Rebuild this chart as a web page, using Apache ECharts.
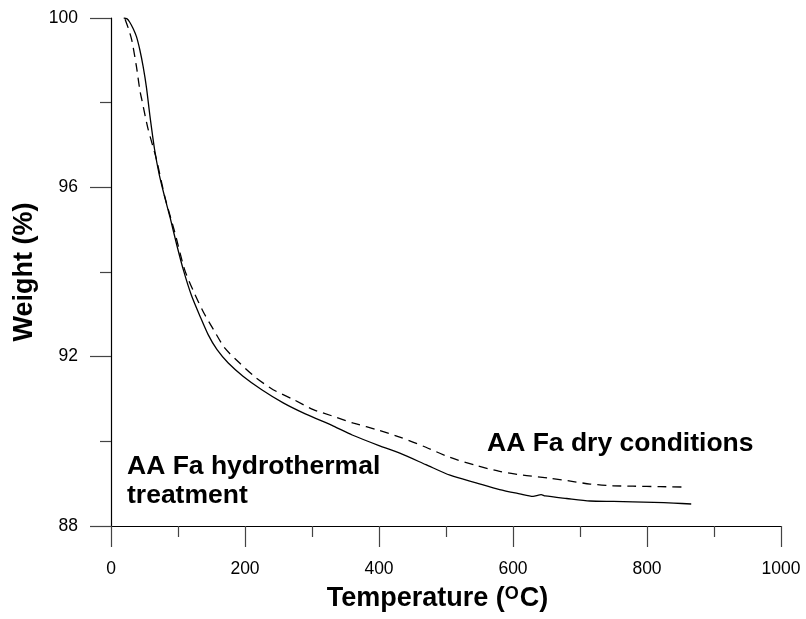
<!DOCTYPE html>
<html><head><meta charset="utf-8">
<script src="https://cdn.jsdelivr.net/npm/echarts@6/dist/echarts.min.js"></script>
<style>html,body{margin:0;padding:0;background:#fff}#c{width:806px;height:619px}</style>
</head><body><div id="c"></div>
<script>
var hydroT = [19,24,28,33,38,43,48,53,58,65,72,80,88,98,108,120,133,145,158,175,197,225,257,290,332,360,400,431,470,506,545,580,610,630,638,642,648,680,715,750,779,810,840,866];
var hydroW = [100,99.98,99.9,99.75,99.56,99.25,98.85,98.35,97.7,96.9,96.3,95.78,95.3,94.65,94.05,93.45,92.95,92.52,92.17,91.85,91.54,91.22,90.91,90.65,90.36,90.15,89.9,89.72,89.45,89.2,89.02,88.86,88.76,88.7,88.73,88.74,88.71,88.65,88.59,88.58,88.57,88.56,88.54,88.52];
var dryT = [21,26,31,38,43,46,55,68,80,95,110,123,138,153,170,192,215,242,272,302,330,362,400,431,470,506,545,580,615,655,690,715,750,779,820,854];
var dryW = [99.97,99.75,99.48,98.85,98.3,98.07,97.4,96.65,95.8,94.95,94.05,93.55,93.05,92.64,92.2,91.85,91.52,91.22,90.99,90.75,90.6,90.43,90.26,90.1,89.86,89.62,89.43,89.29,89.2,89.13,89.05,88.99,88.95,88.94,88.93,88.92];
var xTicks = {min:0, max:1000, interval:200};
var yTicks = {min:88, max:100, interval:4};
var labelHydro = 'AA Fa hydrothermal\ntreatment';
var labelDry = 'AA Fa dry conditions';

function pairs(xs, ys){ return xs.map(function(x,i){return [x, ys[i]];}); }
var FF = 'Liberation Sans, Arial, sans-serif';
var chart = echarts.init(document.getElementById('c'));
chart.setOption({
  animation:false,
  backgroundColor:'#fff',
  grid:{left:111, right:25, top:18, bottom:93},
  xAxis:{type:'value', min:xTicks.min, max:xTicks.max, interval:xTicks.interval,
    name:'Temperature ({sup|O}C)', nameLocation:'middle', nameGap:59,
    nameTextStyle:{fontFamily:FF, fontSize:27, fontWeight:'bold', color:'#000', padding:[0,17,0,0],
      rich:{sup:{fontFamily:FF, fontSize:18, fontWeight:'bold', color:'#000', padding:[0,1,10,0]}}},
    axisLine:{show:true, onZero:false, lineStyle:{color:'#000', width:1.2}},
    axisTick:{show:true, inside:false, length:21, lineStyle:{color:'#444', width:1.2}},
    minorTick:{show:true, splitNumber:2, length:11, lineStyle:{color:'#444', width:1.2}},
    axisLabel:{fontFamily:FF, fontSize:17.5, color:'#000', margin:34, formatter:function(v){return String(v);}},
    splitLine:{show:false}, minorSplitLine:{show:false}},
  yAxis:{type:'value', min:yTicks.min, max:yTicks.max, interval:yTicks.interval,
    name:'Weight (%)', nameLocation:'middle', nameGap:73, nameRotate:90,
    nameTextStyle:{fontFamily:FF, fontSize:27, fontWeight:'bold', color:'#000'},
    axisLine:{show:true, onZero:false, lineStyle:{color:'#000', width:1.2}},
    axisTick:{show:true, inside:false, length:21, lineStyle:{color:'#444', width:1.2}},
    minorTick:{show:true, splitNumber:2, length:11, lineStyle:{color:'#444', width:1.2}},
    axisLabel:{fontFamily:FF, fontSize:17.5, color:'#000', margin:33},
    splitLine:{show:false}, minorSplitLine:{show:false}},
  series:[
    {type:'line', name:'hydro', data:pairs(hydroT, hydroW), showSymbol:false, symbol:'none', smooth:0.25,
      lineStyle:{color:'#000', width:1.3, type:'solid'}},
    {type:'line', name:'dry', data:pairs(dryT, dryW), showSymbol:false, symbol:'none', smooth:0.25,
      lineStyle:{color:'#000', width:1.3, type:[9,6]}}
  ],
  graphic:[
    {type:'text', left:127, top:452, style:{text:labelHydro, font:'bold 26.5px '+FF, fill:'#000', lineHeight:29}},
    {type:'text', left:487, top:430, style:{text:labelDry, font:'bold 26.5px '+FF, fill:'#000'}}
  ]
});
</script></body></html>
